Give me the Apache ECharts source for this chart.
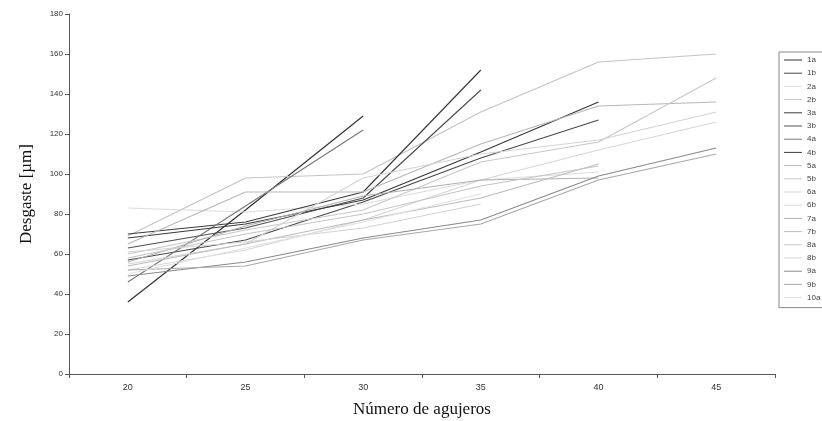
<!DOCTYPE html>
<html><head><meta charset="utf-8">
<script src="https://cdn.jsdelivr.net/npm/echarts@6/dist/echarts.min.js"></script>
<style>html,body{margin:0;padding:0;background:#fff}#c{width:822px;height:421px}</style>
</head><body><div id="c"></div>
<script>
const categories = ['20','25','30','35','40','45'];
const yTicks = [0,20,40,60,80,100,120,140,160,180];
const s1a = [36, 82, 129];
const s1b = [57, 67, 86, 108, 127];
const s2a = [83, 81, 85, 97, 101];
const s2b = [69, 98, 100, 131, 156, 160];
const s3a = [70, 76, 91, 152];
const s3b = [63, 73, 88, 142];
const s4a = [46, 84, 122];
const s4b = [68, 75, 87, 111, 136];
const s5a = [65, 91, 91, 115, 134, 136];
const s5b = [60, 72, 82, 106, 116, 148];
const s6a = [55, 65, 98, 110, 117, 131];
const s6b = [52, 62, 77, 97, 112, 126];
const s7a = [56, 74, 89, 97, 98];
const s7b = [54, 65, 77, 88, 105];
const s8a = [58, 70, 80, 94, 104];
const s8b = [61, 66, 73, 85];
const s9a = [49, 56, 68, 77, 99, 113];
const s9b = [52, 54, 67, 75, 97, 110];
const s10a = [50, 63, 76, 90];
const names = ['1a','1b','2a','2b','3a','3b','4a','4b','5a','5b','6a','6b','7a','7b','8a','8b','9a','9b','10a'];
const values = [s1a,s1b,s2a,s2b,s3a,s3b,s4a,s4b,s5a,s5b,s6a,s6b,s7a,s7b,s8a,s8b,s9a,s9b,s10a];
const colors = ['#333333','#4a4a4a','#dcdcdc','#c4c4c4','#3c3c3c','#505050','#7a7a7a','#3a3a3a',
  '#b8b8b8','#c8c8c8','#d4d4d4','#d6d6d6','#b0b0b0','#bcbcbc','#c6c6c6','#d2d2d2','#8a8a8a','#a8a8a8','#e0e0e0'];

const chart = echarts.init(document.getElementById('c'));
chart.setOption({
  animation: false,
  backgroundColor: '#fff',
  color: colors,
  grid: {left: 69, right: 47, top: 14, bottom: 47, containLabel: false, outerBoundsMode: 'none'},
  legend: {
    orient: 'vertical', left: 779, top: 52,
    data: names, itemWidth: 18, itemHeight: 8, itemGap: 5.2,
    borderColor: '#888', borderWidth: 1, padding: [4, 20, 6, 5],
    textStyle: {fontSize: 8, color: '#444', fontFamily: 'Liberation Sans, Arial'},
    icon: 'path://M0,4 L18,4 L18,5 L0,5 Z'
  },
  xAxis: {
    type: 'category', data: categories, boundaryGap: true,
    name: 'Número de agujeros', nameLocation: 'middle', nameGap: 27,
    nameTextStyle: {fontFamily: 'Liberation Serif, Times New Roman', fontSize: 17, color: '#111'},
    axisLine: {lineStyle: {color: '#555', width: 1}},
    axisTick: {show: true, length: 4, lineStyle: {color: '#555'}},
    axisLabel: {fontSize: 9, color: '#333', fontFamily: 'Liberation Sans, Arial', margin: 9},
    splitLine: {show: false}
  },
  yAxis: {
    type: 'value', min: 0, max: 180, interval: 20,
    name: 'Desgaste [µm]', nameLocation: 'middle', nameGap: 34, nameRotate: 90,
    nameTextStyle: {fontFamily: 'Liberation Serif, Times New Roman', fontSize: 17, color: '#111'},
    axisLine: {show: true, lineStyle: {color: '#555', width: 1}},
    axisTick: {show: true, length: 4, lineStyle: {color: '#555'}},
    axisLabel: {fontSize: 8, color: '#333', fontFamily: 'Liberation Sans, Arial', margin: 6,
      formatter: v => yTicks.includes(v) ? String(v) : ''},
    splitLine: {show: false}
  },
  series: names.map((n, i) => ({
    name: n, type: 'line', data: values[i], showSymbol: false, symbol: 'none',
    lineStyle: {width: 1.2, color: colors[i]}, itemStyle: {color: colors[i]}
  }))
});
</script></body></html>
